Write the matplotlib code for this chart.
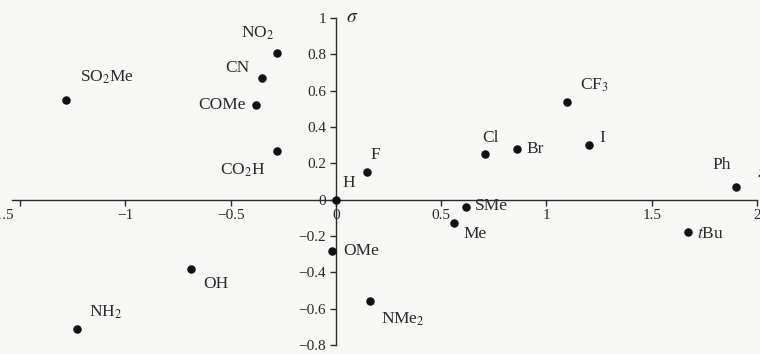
import matplotlib
matplotlib.use('Agg')
import matplotlib.pyplot as plt
from matplotlib.transforms import ScaledTranslation

plt.rcParams['font.family'] = ['Liberation Serif', 'DejaVu Serif']
plt.rcParams['mathtext.fontset'] = 'stix'

# substituent, pi (hydrophobicity), sigma (Hammett)
names = ['SO$_\\mathrm{2}$Me', 'NO$_\\mathrm{2}$', 'CN', 'COMe', 'CO$_\\mathrm{2}$H', 'F', 'H',
         'Cl', 'Br', 'CF$_\\mathrm{3}$', 'I', 'Ph', 'SMe', 'Me', '$\\it{t}$Bu', 'OMe',
         'OH', 'NMe$_\\mathrm{2}$', 'NH$_\\mathrm{2}$']
pi_vals = [-1.28, -0.28, -0.35, -0.38, -0.28, 0.15, 0.0,
           0.71, 0.86, 1.10, 1.20, 1.90, 0.62, 0.56, 1.67, -0.02,
           -0.69, 0.16, -1.23]
sigma_vals = [0.55, 0.81, 0.67, 0.52, 0.27, 0.155, 0.0,
              0.25, 0.28, 0.54, 0.30, 0.07, -0.04, -0.13, -0.18, -0.28,
              -0.38, -0.56, -0.71]
# label offsets in points and alignment
offsets = [(10, 16, 'left'), (-14, 14, 'center'), (-9, 7, 'right'), (-7, 0, 'right'),
           (-8, -14, 'right'), (2, 12, 'left'), (5, 12, 'left'),
           (-2, 12, 'left'), (7, 0, 'left'), (9, 12, 'left'), (8, 5, 'left'),
           (-17, 16, 'left'), (6, 1, 'left'), (7, -8, 'left'), (7, -1, 'left'),
           (8, 0, 'left'), (9, -11, 'left'), (8, -13, 'left'), (9, 12, 'left')]

xticks = [-1.5, -1, -0.5, 0, 0.5, 1, 1.5, 2]
xticklabels = ['\u22121.5', '\u22121', '\u22120.5', '0', '0.5', '1', '1.5', '2']
yticks = [-0.8, -0.6, -0.4, -0.2, 0, 0.2, 0.4, 0.6, 0.8, 1]
yticklabels = ['\u22120.8', '\u22120.6', '\u22120.4', '\u22120.2', '0', '0.2', '0.4', '0.6', '0.8', '1']

ink = '#2a2a2a'
fig = plt.figure(figsize=(7.6, 3.54), dpi=100)
fig.patch.set_facecolor('#f7f7f5')
ax = fig.add_axes([12 / 760, 1 - 345 / 354, (757 - 12) / 760, (345 - 18) / 354])
ax.set_facecolor('none')
ax.set_xlim(-1.538, 2)
ax.set_ylim(-0.8, 1)

for s in ['top', 'right']:
    ax.spines[s].set_visible(False)
ax.spines['left'].set_position(('data', 0))
ax.spines['bottom'].set_position(('data', 0))
for s in ['left', 'bottom']:
    ax.spines[s].set_color(ink)
    ax.spines[s].set_linewidth(1.0)

ax.set_xticks(xticks)
ax.set_xticklabels(xticklabels)
ax.set_yticks(yticks)
ax.set_yticklabels(yticklabels)
ax.tick_params(axis='both', colors=ink, labelsize=11, length=4, width=1.0)
ax.tick_params(axis='x', pad=3)
ax.tick_params(axis='y', pad=3)

# first x label runs off the left edge in the original
lab0 = ax.get_xticklabels()[0]
lab0.set_transform(lab0.get_transform() + ScaledTranslation(-14 / 72, 0, fig.dpi_scale_trans))

ax.scatter(pi_vals, sigma_vals, s=26, color='#111111', zorder=3, clip_on=False)

for n, x, y, (dx, dy, ha) in zip(names, pi_vals, sigma_vals, offsets):
    ax.annotate(n, (x, y), xytext=(dx, dy), textcoords='offset points',
                ha=ha, va='center', fontsize=12.5, color=ink)

ax.text(0.05, 1.0, '$\\sigma$', fontsize=14, color=ink, ha='left', va='center')
ax.text(2.0, 0.15, '$\\pi$', fontsize=14, color=ink, ha='left', va='center')

fig.savefig('out.png', dpi=100, facecolor=fig.get_facecolor())
